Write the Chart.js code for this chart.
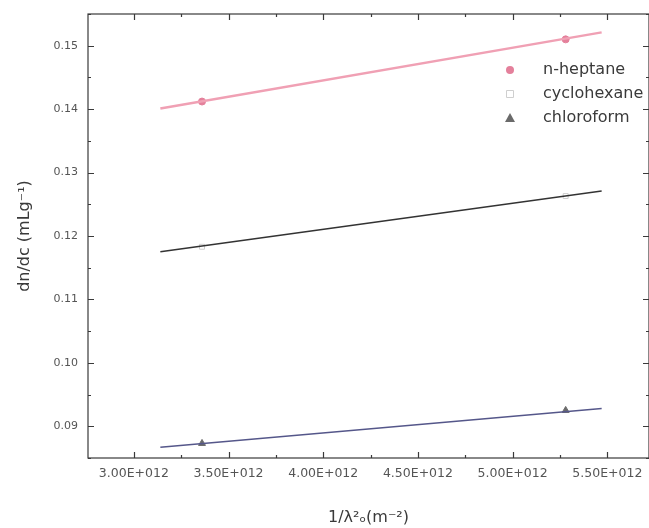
<!DOCTYPE html>
<html>
<head>
<meta charset="utf-8">
<script src="https://cdn.jsdelivr.net/npm/chart.js@4"></script>
<style>
  body { margin: 0; background: #fff; overflow: hidden; }
  #wrap { width: 649px; height: 528px; }
  canvas { display: block; }
</style>
</head>
<body>
<div id="wrap"><canvas id="dndcChart" width="649" height="528"></canvas></div>
<script>
// measured points (x = 1/lambda^2, y = dn/dc)
const pointX = [3.36e12, 5.28e12];
const heptane = [0.1412, 0.1510];
const cyclohexane = [0.1183, 0.1263];
const chloroform = [0.0873, 0.0925];

// linear fit lines, read at both ends
const fitX = [3.14e12, 5.47e12];
const heptaneFit = [0.1401, 0.1521];
const cyclohexaneFit = [0.1175, 0.1271];
const chloroformFit = [0.0867, 0.0928];

const xTicks = [3.0e12, 3.5e12, 4.0e12, 4.5e12, 5.0e12, 5.5e12];
const yTicks = [0.09, 0.10, 0.11, 0.12, 0.13, 0.14, 0.15];

const axisColor = '#3a3a3a';
const labelColor = '#555';

function pts(xs, ys) {
    return xs.map((x, i) => ({ x: x, y: ys[i] }));
}

/* Frame plus inward ticks (major + minor halfway), drawn from the scales */
const framePlugin = {
    id: 'frame',
    afterDraw(chart) {
        const { ctx, chartArea: a, scales } = chart;
        const xs = scales.x, ys = scales.y;
        ctx.save();
        ctx.strokeStyle = axisColor;
        ctx.lineWidth = 1.2;
        ctx.strokeRect(a.left, a.top, a.right - a.left, a.bottom - a.top);
        const xStep = (xTicks[1] - xTicks[0]) / 2;
        for (let v = xTicks[0] - xStep; v <= xs.max; v += xStep) {
            if (v < xs.min) continue;
            const px = Math.round(xs.getPixelForValue(v)) + 0.5;
            const major = xTicks.some(t => Math.abs(t - v) < 1e9);
            const len = major ? 6 : 3;
            ctx.beginPath();
            ctx.moveTo(px, a.bottom); ctx.lineTo(px, a.bottom - len);
            ctx.moveTo(px, a.top); ctx.lineTo(px, a.top + len);
            ctx.stroke();
        }
        const yStep = (yTicks[1] - yTicks[0]) / 2;
        for (let v = yTicks[0] - yStep; v <= ys.max + 1e-9; v += yStep) {
            if (v < ys.min - 1e-9) continue;
            const py = Math.round(ys.getPixelForValue(v)) + 0.5;
            const major = yTicks.some(t => Math.abs(t - v) < 1e-6);
            const len = major ? 6 : 3;
            ctx.beginPath();
            ctx.moveTo(a.left, py); ctx.lineTo(a.left + len, py);
            ctx.moveTo(a.right, py); ctx.lineTo(a.right - len, py);
            ctx.stroke();
        }
        ctx.restore();
    }
};

/* Legend inside the plot, top right, showing the marker datasets only */
const legendPlugin = {
    id: 'insideLegend',
    afterDraw(chart) {
        const { ctx } = chart;
        const rows = chart.data.datasets.filter(d => d.inLegend);
        const symX = 510, textX = 543;
        let y = 70;
        ctx.save();
        ctx.font = '16px "DejaVu Sans"';
        ctx.textBaseline = 'middle';
        rows.forEach(d => {
            ctx.fillStyle = d.backgroundColor;
            ctx.strokeStyle = d.borderColor;
            ctx.lineWidth = 1;
            ctx.beginPath();
            if (d.pointStyle === 'circle') {
                ctx.arc(symX, y, 4, 0, Math.PI * 2);
                ctx.fill();
            } else if (d.pointStyle === 'rect') {
                ctx.rect(symX - 3.5, y - 3.5, 7, 7);
                ctx.stroke();
            } else {
                ctx.moveTo(symX, y - 5); ctx.lineTo(symX + 5, y + 4); ctx.lineTo(symX - 5, y + 4);
                ctx.closePath();
                ctx.fill();
            }
            ctx.fillStyle = '#3a3a3a';
            ctx.fillText(d.label, textX, y);
            y += 24;
        });
        ctx.restore();
    }
};

const ctx = document.getElementById('dndcChart').getContext('2d');
new Chart(ctx, {
    type: 'scatter',
    data: {
        datasets: [
            {
                label: 'n-heptane fit', data: pts(fitX, heptaneFit), showLine: true,
                borderColor: 'rgb(240,160,180)', borderWidth: 2.4, pointRadius: 0
            },
            {
                label: 'cyclohexane fit', data: pts(fitX, cyclohexaneFit), showLine: true,
                borderColor: '#333', borderWidth: 1.5, pointRadius: 0
            },
            {
                label: 'chloroform fit', data: pts(fitX, chloroformFit), showLine: true,
                borderColor: '#55578a', borderWidth: 1.6, pointRadius: 0
            },
            {
                label: 'n-heptane', data: pts(pointX, heptane), inLegend: true,
                pointStyle: 'circle', pointRadius: 3.5,
                backgroundColor: 'rgb(228,128,155)', borderColor: 'rgb(228,128,155)'
            },
            {
                label: 'cyclohexane', data: pts(pointX, cyclohexane), inLegend: true,
                pointStyle: 'rect', pointRadius: 3.5,
                backgroundColor: 'rgba(255,255,255,0)', borderColor: '#cfcfcf'
            },
            {
                label: 'chloroform', data: pts(pointX, chloroform), inLegend: true,
                pointStyle: 'triangle', pointRadius: 4,
                backgroundColor: '#6a6a6a', borderColor: '#6a6a6a'
            }
        ]
    },
    options: {
        responsive: false,
        animation: false,
        layout: { autoPadding: false, padding: { top: 14, right: -1, left: 0, bottom: 0 } },
        plugins: {
            legend: { display: false },
            tooltip: { enabled: false }
        },
        scales: {
            x: {
                type: 'linear',
                min: 2.758e12,
                max: 5.72e12,
                afterBuildTicks: s => { s.ticks = xTicks.map(v => ({ value: v })); },
                afterFit: s => { s.height = 70; s.paddingLeft = 0; s.paddingRight = 0; },
                // grid hidden, but its tick length still pushes the labels down
                grid: { display: false, drawTicks: true, tickLength: 8 },
                border: { display: false },
                ticks: {
                    padding: 0,
                    color: labelColor,
                    font: { family: 'DejaVu Sans', size: 12.5 },
                    callback: v => (v / 1e12).toFixed(2) + 'E+012'
                },
                title: {
                    display: true,
                    text: '1/\u03bb\u00b2\u2092(m\u207b\u00b2)',
                    color: '#3a3a3a',
                    font: { family: 'DejaVu Sans', size: 16 },
                    padding: { top: 0, bottom: 1 }
                }
            },
            y: {
                min: 0.085,
                max: 0.155,
                afterBuildTicks: s => { s.ticks = yTicks.map(v => ({ value: v })); },
                afterFit: s => { s.width = 88; s.paddingTop = 0; s.paddingBottom = 0; },
                grid: { display: false, drawTicks: false },
                border: { display: false },
                ticks: {
                    padding: 10,
                    color: labelColor,
                    font: { family: 'DejaVu Sans', size: 11 },
                    callback: v => v.toFixed(2)
                },
                title: {
                    display: true,
                    text: 'dn/dc (mLg\u207b\u00b9)',
                    color: '#3a3a3a',
                    font: { family: 'DejaVu Sans', size: 16 },
                    padding: { top: 15, bottom: 0 }
                }
            }
        }
    },
    plugins: [framePlugin, legendPlugin]
});
</script>
</body>
</html>
